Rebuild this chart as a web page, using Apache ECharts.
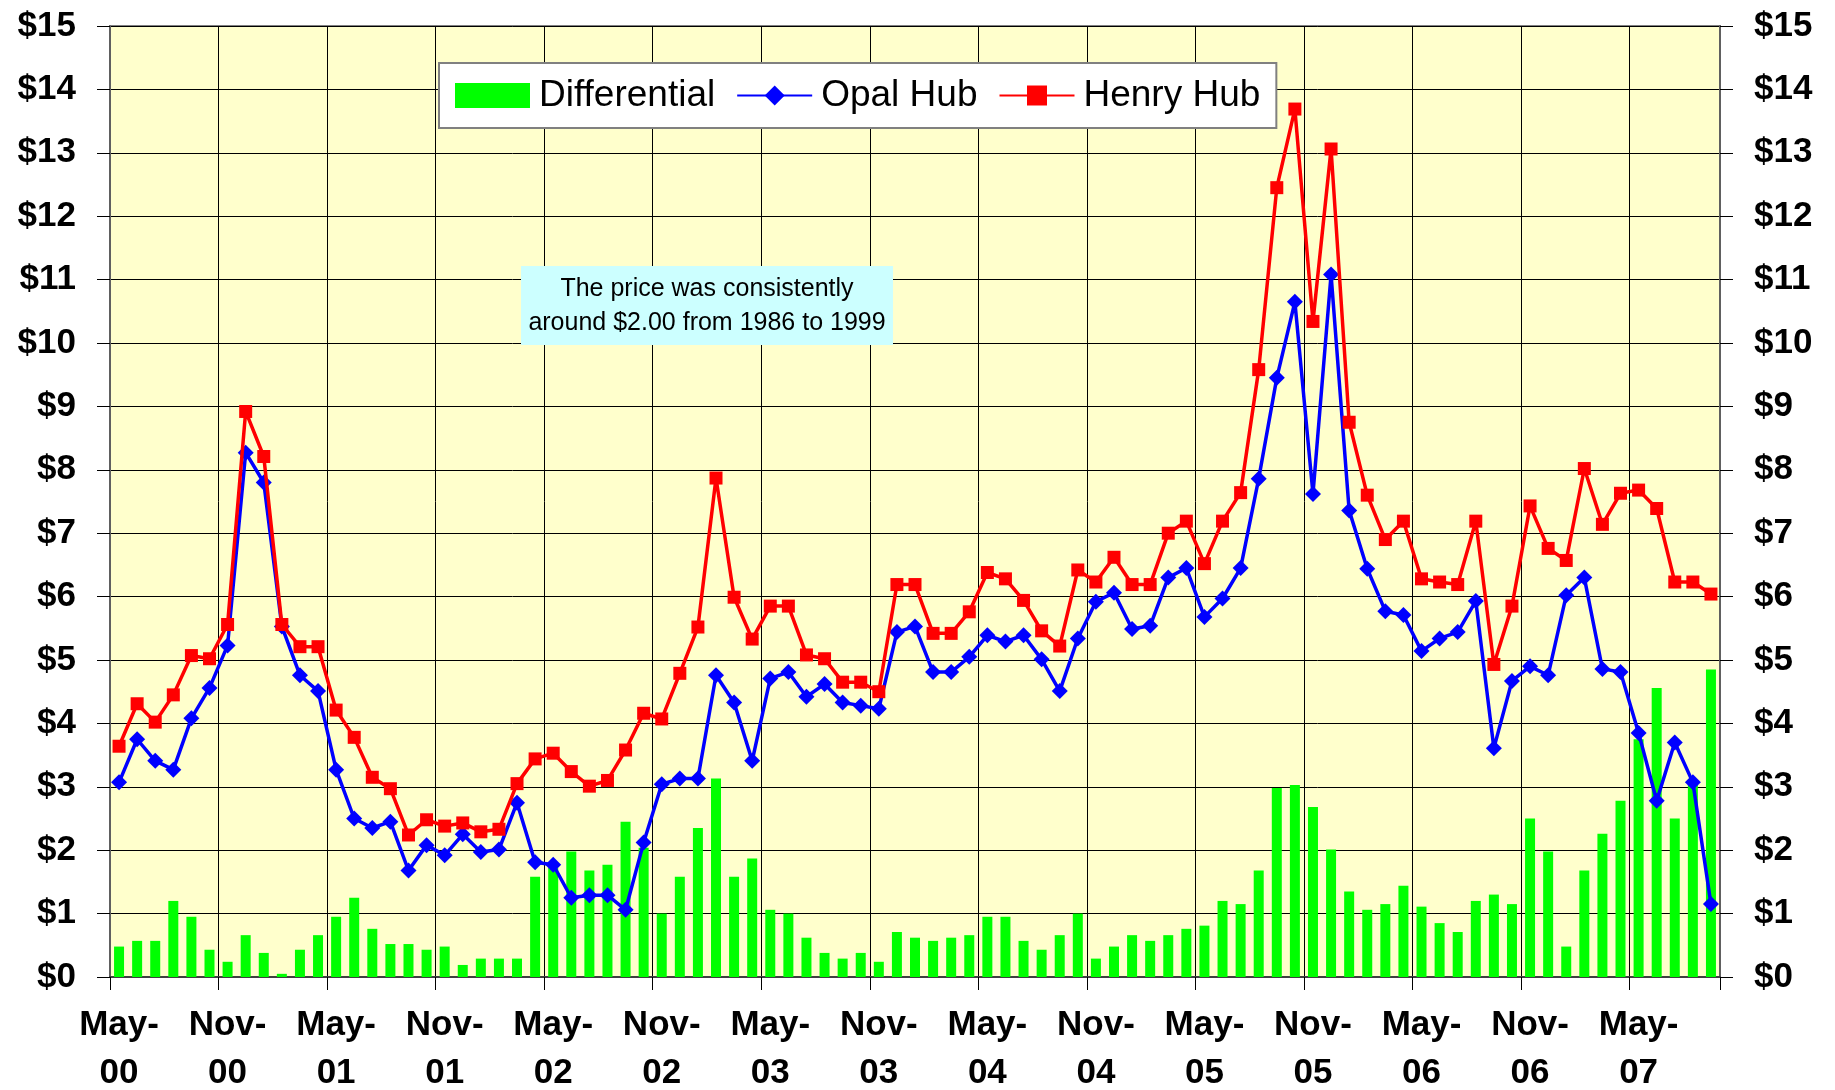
<!DOCTYPE html>
<html>
<head>
<meta charset="utf-8">
<title>Opal Hub vs Henry Hub</title>
<script src="https://cdn.jsdelivr.net/npm/echarts@6/dist/echarts.min.js"></script>
<style>
    html, body { margin: 0; padding: 0; background: #fff; }
    #chart { width: 1835px; height: 1090px; }
</style>
</head>
<body>
<div id="chart"></div>
<script>
// ==================== Data ====================
const MONTH_NAMES = ['Jan', 'Feb', 'Mar', 'Apr', 'May', 'Jun', 'Jul', 'Aug', 'Sep', 'Oct', 'Nov', 'Dec'];
const START_YEAR = 2000;
const START_MONTH = 4; // May
const MONTH_COUNT = 89; // May-00 .. Sep-07

const henryHub = [
    3.64, 4.31, 4.02, 4.45, 5.07, 5.02, 5.56, 8.92, 8.21, 5.56, 5.21, 5.21,
    4.21, 3.78, 3.15, 2.97, 2.24, 2.48, 2.38, 2.43, 2.29, 2.33, 3.05, 3.44,
    3.53, 3.24, 3.01, 3.10, 3.58, 4.16, 4.07, 4.79, 5.52, 7.87, 5.99, 5.33,
    5.85, 5.85, 5.08, 5.02, 4.65, 4.65, 4.50, 6.19, 6.19, 5.42, 5.42, 5.76,
    6.38, 6.28, 5.94, 5.46, 5.22, 6.42, 6.23, 6.62, 6.19, 6.19, 7.00, 7.19,
    6.52, 7.19, 7.64, 9.58, 12.45, 13.69, 10.34, 13.06, 8.75, 7.60, 6.90, 7.19,
    6.28, 6.23, 6.19, 7.19, 4.93, 5.85, 7.43, 6.76, 6.57, 8.02, 7.14, 7.63,
    7.68, 7.39, 6.23, 6.23, 6.04
];

const opalHub = [
    3.07, 3.75, 3.41, 3.27, 4.08, 4.56, 5.23, 8.27, 7.80, 5.53, 4.76, 4.51,
    3.27, 2.50, 2.35, 2.45, 1.68, 2.08, 1.92, 2.25, 1.97, 2.01, 2.75, 1.81,
    1.77, 1.25, 1.29, 1.29, 1.06, 2.12, 3.04, 3.13, 3.13, 4.76, 4.33, 3.41,
    4.71, 4.81, 4.42, 4.62, 4.33, 4.28, 4.23, 5.44, 5.53, 4.81, 4.81, 5.05,
    5.39, 5.29, 5.39, 5.01, 4.51, 5.34, 5.92, 6.06, 5.49, 5.54, 6.30, 6.45,
    5.68, 5.97, 6.45, 7.86, 9.45, 10.65, 7.62, 11.08, 7.36, 6.44, 5.77, 5.71,
    5.14, 5.34, 5.44, 5.93, 3.61, 4.67, 4.90, 4.76, 6.02, 6.30, 4.86, 4.81,
    3.85, 2.78, 3.70, 3.07, 1.15
];

const differential = [
    0.48, 0.57, 0.57, 1.20, 0.95, 0.43, 0.24, 0.66, 0.38, 0.05, 0.43, 0.66,
    0.95, 1.25, 0.76, 0.52, 0.52, 0.43, 0.48, 0.19, 0.29, 0.29, 0.29, 1.58,
    1.72, 1.98, 1.68, 1.77, 2.45, 2.04, 1.00, 1.58, 2.35, 3.13, 1.58, 1.87,
    1.06, 1.00, 0.62, 0.38, 0.29, 0.38, 0.24, 0.71, 0.62, 0.57, 0.62, 0.66,
    0.95, 0.95, 0.57, 0.43, 0.66, 1.00, 0.29, 0.48, 0.66, 0.57, 0.66, 0.76,
    0.81, 1.20, 1.15, 1.68, 2.98, 3.03, 2.68, 2.01, 1.35, 1.06, 1.15, 1.44,
    1.11, 0.85, 0.71, 1.20, 1.30, 1.15, 2.50, 1.98, 0.48, 1.68, 2.26, 2.78,
    3.75, 4.56, 2.50, 3.05, 4.85
];

const yTicks = { min: 0, max: 15, step: 1 };
const noteLines = ['The price was consistently', 'around $2.00 from 1986 to 1999'];

// ==================== Helpers ====================
function buildMonths() {
    const out = [];
    for (let i = 0; i < MONTH_COUNT; i++) {
        const m = (START_MONTH + i) % 12;
        const y = START_YEAR + Math.floor((START_MONTH + i) / 12);
        out.push(MONTH_NAMES[m] + '-' + String(y % 100).padStart(2, '0'));
    }
    return out;
}

const FONT = 'Arial, "Liberation Sans", sans-serif';
const months = buildMonths();

function yAxisCfg(pos) {
    return {
        type: 'value',
        position: pos,
        min: yTicks.min, max: yTicks.max, interval: yTicks.step,
        axisLine: { show: true, lineStyle: { color: '#606060', width: 2 } },
        axisTick: { show: true, length: 13, lineStyle: { color: '#000', width: 1 } },
        axisLabel: {
            margin: 34,
            fontFamily: FONT, fontSize: 35, fontWeight: 'bold', color: '#000',
            formatter: v => '$' + v
        },
        splitLine: { show: pos === 'left', lineStyle: { color: '#000', width: 1 } }
    };
}

// ==================== Chart ====================
const chart = echarts.init(document.getElementById('chart'), null, { renderer: 'canvas' });

chart.setOption({
    animation: false,
    backgroundColor: '#fff',
    grid: {
        left: 110, right: 115, top: 26, bottom: 113,
        outerBoundsMode: 'none',
        containLabel: false,
        show: true, backgroundColor: '#FFFFCC', borderColor: '#808080', borderWidth: 2
    },
    legend: {
        left: 439, top: 63,
        padding: [14, 16, 14, 16],
        backgroundColor: '#fff', borderColor: '#808080', borderWidth: 2,
        itemWidth: 75, itemHeight: 25, itemGap: 21,
        textStyle: { fontFamily: FONT, fontSize: 37, color: '#000', padding: [0, 0, 0, 4] },
        data: [
            { name: 'Differential', icon: 'rect' },
            { name: 'Opal Hub' },
            { name: 'Henry Hub' }
        ]
    },
    xAxis: {
        type: 'category',
        data: months,
        boundaryGap: true,
        axisLine: { show: true, lineStyle: { color: '#404040', width: 2 } },
        axisTick: { show: true, interval: 5, length: 13, lineStyle: { color: '#000', width: 1 } },
        axisLabel: {
            interval: 5,
            margin: 24,
            fontFamily: FONT, fontSize: 35, fontWeight: 'bold', color: '#000',
            lineHeight: 48,
            formatter: v => v.replace('-', '-\n')
        },
        splitLine: { show: true, interval: 5, lineStyle: { color: '#000', width: 1 } }
    },
    yAxis: [yAxisCfg('left'), yAxisCfg('right')],
    series: [
        {
            name: 'Differential',
            type: 'bar',
            data: differential,
            barWidth: 10,
            itemStyle: { color: '#00FF00' },
            z: 1
        },
        {
            name: 'Opal Hub',
            type: 'line',
            data: opalHub,
            symbol: 'diamond',
            symbolSize: 16,
            showAllSymbol: true,
            lineStyle: { color: '#0000FF', width: 3.5 },
            itemStyle: { color: '#0000FF' },
            z: 3
        },
        {
            name: 'Henry Hub',
            type: 'line',
            data: henryHub,
            symbol: 'rect',
            symbolSize: 13,
            showAllSymbol: true,
            lineStyle: { color: '#FF0000', width: 3.5 },
            itemStyle: { color: '#FF0000' },
            z: 4
        }
    ],
    graphic: [
        {
            type: 'rect',
            left: 521, top: 266,
            shape: { width: 372, height: 79 },
            style: { fill: '#CCFFFF' },
            z: 10
        },
        {
            type: 'text',
            x: 707, y: 306,
            style: {
                text: noteLines.join('\n'),
                textAlign: 'center',
                textVerticalAlign: 'middle',
                fontFamily: FONT, fontSize: 25, lineHeight: 34,
                fill: '#000'
            },
            z: 11
        }
    ]
});

window.addEventListener('resize', () => chart.resize());
</script>
</body>
</html>
